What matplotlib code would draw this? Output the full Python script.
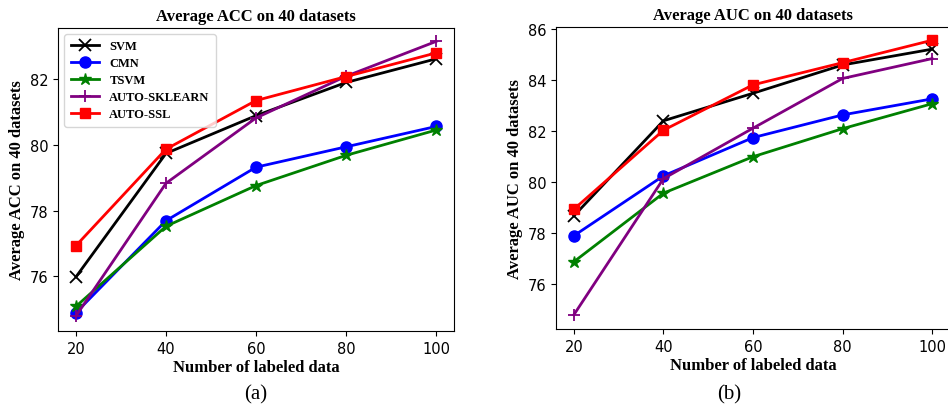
import numpy as np
import matplotlib
matplotlib.use("Agg")
import matplotlib.pyplot as plt

n_labeled = [20, 40, 60, 80, 100]
methods = ["SVM", "CMN", "TSVM", "AUTO-SKLEARN", "AUTO-SSL"]

acc_svm = [75.98, 79.74, 80.89, 81.90, 82.62]
acc_cmn = [74.89, 77.69, 79.32, 79.94, 80.56]
acc_tsvm = [75.08, 77.52, 78.76, 79.68, 80.45]
acc_sklearn = [74.79, 78.83, 80.82, 82.09, 83.15]
acc_ssl = [76.93, 79.87, 81.35, 82.08, 82.80]

auc_svm = [78.68, 82.41, 83.49, 84.60, 85.22]
auc_cmn = [77.90, 80.25, 81.75, 82.64, 83.27]
auc_tsvm = [76.88, 79.57, 81.00, 82.10, 83.08]
auc_sklearn = [74.80, 80.14, 82.12, 84.07, 84.85]
auc_ssl = [78.94, 82.04, 83.82, 84.69, 85.57]

styles = [("black", "x"), ("blue", "o"), ("green", "*"), ("purple", "+"), ("red", "s")]
serif = ["Liberation Serif", "DejaVu Serif"]

fig = plt.figure(figsize=(9.48, 4.10), dpi=100)
ax1 = fig.add_axes([58 / 948, 1 - 332 / 410, 396 / 948, 303 / 410])
ax2 = fig.add_axes([556 / 948, 1 - 330 / 410, 394 / 948, 302 / 410])

panels = [
    (ax1, [acc_svm, acc_cmn, acc_tsvm, acc_sklearn, acc_ssl], "ACC", (74.33, 83.56), [76, 78, 80, 82]),
    (ax2, [auc_svm, auc_cmn, auc_tsvm, auc_sklearn, auc_ssl], "AUC", (74.24, 86.09), [76, 78, 80, 82, 84, 86]),
]

for ax, series, metric, ylim, yticks in panels:
    for name, vals, (c, m) in zip(methods, series, styles):
        ms = {"*": 9, "s": 7.5, "o": 8}.get(m, 8)
        ax.plot(n_labeled, vals, color=c, marker=m, markersize=ms, linewidth=2,
                markeredgewidth=1.3 if m in "x+" else 1, label=name)
    ax.set_xlim(16, 104)
    ax.set_ylim(*ylim)
    ax.set_xticks(n_labeled)
    ax.set_yticks(yticks)
    ax.tick_params(labelsize=10.5)
    ax.set_title("Average %s on 40 datasets" % metric, family=serif, fontweight="bold", fontsize=12, pad=6)
    ax.set_xlabel("Number of labeled data", family=serif, fontweight="bold", fontsize=12, labelpad=2)
    ax.set_ylabel("Average %s on 40 datasets" % metric, family=serif, fontweight="bold", fontsize=12, labelpad=3)

ax1.legend(loc="upper left", prop={"family": serif, "weight": "bold", "size": 9},
           handlelength=2.3, labelspacing=0.4, borderpad=0.5)

fig.text(256 / 948, 1 - 395 / 410, "(a)", family=serif, fontsize=15, ha="center", va="center")
fig.text(729 / 948, 1 - 395 / 410, "(b)", family=serif, fontsize=15, ha="center", va="center")

fig.savefig("out.png", dpi=100)
